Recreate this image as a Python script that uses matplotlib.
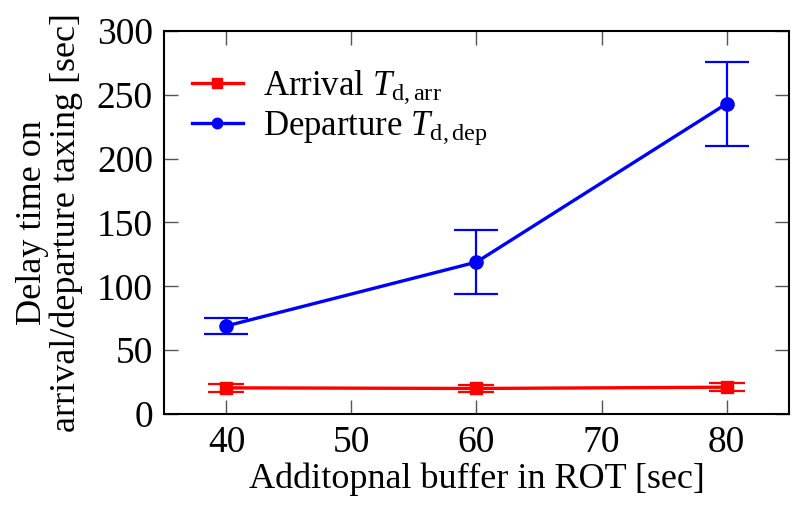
import matplotlib.pyplot as plt
from matplotlib.lines import Line2D

plt.rcParams['font.family'] = ['Liberation Serif', 'DejaVu Serif']
plt.rcParams['mathtext.fontset'] = 'custom'
plt.rcParams['mathtext.rm'] = 'Liberation Serif'
plt.rcParams['mathtext.it'] = 'Liberation Serif:italic'

# buffer values [sec]
buffer = [40, 60, 80]
arr_mean = [20.5, 20, 21]
arr_err = [3, 2.5, 3]
dep_mean = [69, 119, 243]
dep_lo = [63, 94, 210]
dep_hi = [75, 144, 276]

dep_err = [[m - lo for m, lo in zip(dep_mean, dep_lo)],
           [hi - m for m, hi in zip(dep_mean, dep_hi)]]

fig = plt.figure(figsize=(7.98, 5.05), dpi=100)
ax = fig.add_axes([164 / 798, 1 - 414 / 505, 625 / 798, 383 / 505])

ax.errorbar(buffer, arr_mean, yerr=arr_err, color='#ff0000', marker='s', markersize=9,
            linewidth=2.4, elinewidth=1.6, capsize=13, capthick=1.6)
ax.errorbar(buffer, dep_mean, yerr=dep_err, color='#0000ff', marker='o', markersize=9.5,
            linewidth=2.4, elinewidth=1.6, capsize=16, capthick=1.6)

handles = [Line2D([], [], color='#ff0000', marker='s', markersize=7, linewidth=2.4),
           Line2D([], [], color='#0000ff', marker='o', markersize=7.5, linewidth=2.4)]
labels = [r'Arrival $T_{\mathrm{d,arr}}$', r'Departure $T_{\mathrm{d,dep}}$']

ax.set_xlim(35, 85)
ax.set_ylim(0, 300)
ax.set_xticks([40, 50, 60, 70, 80])
ax.set_yticks(range(0, 301, 50))
ax.tick_params(direction='in', top=True, right=True, length=10, width=1,
               color='#555555', labelsize=27, pad=8)
for s in ax.spines.values():
    s.set_linewidth(1.5)

ax.set_xlabel('Additopnal buffer in ROT [sec]', fontsize=26, labelpad=2)
ax.set_ylabel('Delay time on\narrival/departure taxing [sec]', fontsize=26,
              linespacing=1.0, labelpad=10)

ax.legend(handles, labels, loc='upper left', bbox_to_anchor=(0, 0.975), fontsize=25,
          frameon=False, handlelength=1.47, borderaxespad=0.4, labelspacing=0.1,
          handletextpad=0.58)

fig.savefig('out.png', dpi=100)
